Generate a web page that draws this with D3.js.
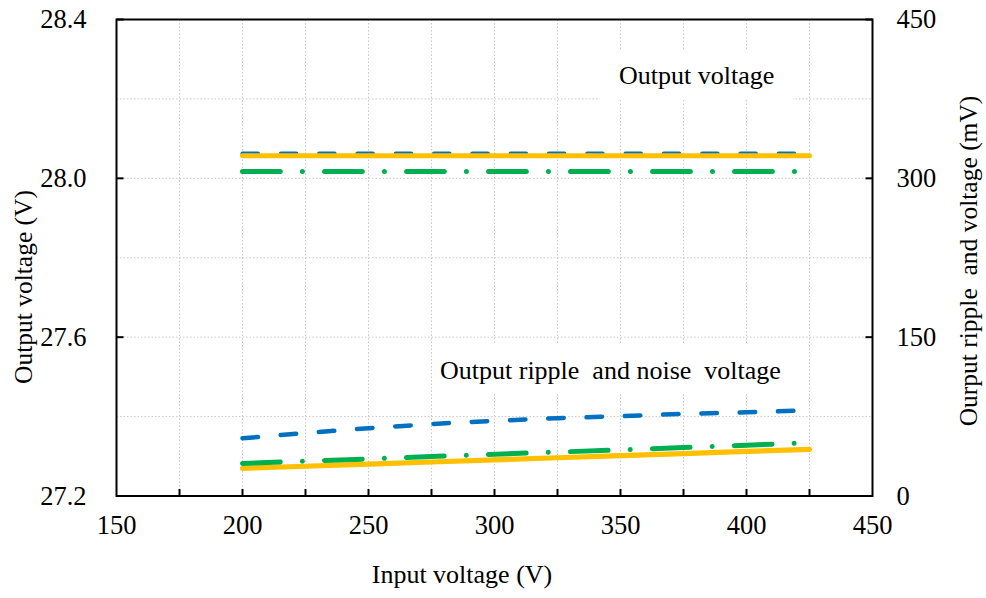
<!DOCTYPE html>
<html>
<head>
<meta charset="utf-8">
<script src="https://cdn.jsdelivr.net/npm/d3@7"></script>
<style>
  html, body { margin: 0; padding: 0; background: #fff; }
  svg { display: block; }
  text { font-family: "Liberation Serif", "Times New Roman", serif; fill: #000; }
</style>
</head>
<body>
<svg id="chart" width="986" height="598"></svg>
<script>
// Input voltage samples (V)
const vinFull = [200, 225, 250, 275, 300, 325, 350, 375, 400, 425];
const vinShort = [200, 225, 250, 275, 300, 325, 350, 375, 400, 420];

// Output voltage (V), left axis
const outVoltBlue   = [28.062, 28.062, 28.062, 28.062, 28.062, 28.062, 28.062, 28.062, 28.062, 28.062];
const outVoltYellow = [28.057, 28.057, 28.057, 28.057, 28.057, 28.057, 28.057, 28.057, 28.057, 28.057];
const outVoltGreen  = [28.017, 28.017, 28.017, 28.017, 28.017, 28.017, 28.017, 28.017, 28.017, 28.017];

// Output ripple and noise voltage (mV), right axis
const rippleBlue   = [54.5, 59.5, 64, 68, 71, 73.5, 75.5, 77.5, 79, 80.5];
const rippleYellow = [26.1, 28.1, 30.1, 32.1, 34.1, 36.1, 38.1, 40.1, 42.1, 44.1];
const rippleGreen  = [30.8, 33, 35, 37.2, 39.5, 41.5, 43.5, 45.7, 48, 49.8];

// Axis ticks
const xTicks = [150, 200, 250, 300, 350, 400, 450];
const xMinorTicks = [175, 200, 225, 250, 275, 300, 325, 350, 375, 400, 425];
const yLeftTicks = [27.2, 27.6, 28.0, 28.4];
const yGrid = [27.4, 27.6, 27.8, 28.0, 28.2];
const yRightTicks = [0, 150, 300, 450];

const svg = d3.select("#chart");
const m = { left: 116.5, top: 19.5, right: 113.5, bottom: 102 };
const W = 986 - m.left - m.right;
const H = 598 - m.top - m.bottom;

const x = d3.scaleLinear().domain([150, 450]).range([0, W]);
const yL = d3.scaleLinear().domain([27.2, 28.4]).range([H, 0]);
const yR = d3.scaleLinear().domain([0, 450]).range([H, 0]);

const g = svg.append("g").attr("transform", `translate(${m.left},${m.top})`);

// dotted grid
const grid = g.append("g").attr("stroke", "#c9c9c9").attr("stroke-width", 1).attr("stroke-dasharray", "1.5,2");
grid.selectAll("line.vx").data(xMinorTicks).join("line")
  .attr("x1", d => x(d)).attr("x2", d => x(d)).attr("y1", 0).attr("y2", H);
grid.selectAll("line.hy").data(yGrid).join("line")
  .attr("x1", 0).attr("x2", W).attr("y1", d => yL(d)).attr("y2", d => yL(d));

// annotation backgrounds cover the grid
const annotations = [
  { text: "Output voltage", x: 619 - m.left, y: 84 - m.top, box: [600 - m.left, 50 - m.top, 193, 50] },
  { text: "Output ripple\u00a0 and noise\u00a0 voltage", x: 440 - m.left, y: 379 - m.top, box: [432 - m.left, 345 - m.top, 358, 48] }
];
g.selectAll("rect.bg").data(annotations).join("rect")
  .attr("x", d => d.box[0]).attr("y", d => d.box[1])
  .attr("width", d => d.box[2]).attr("height", d => d.box[3])
  .attr("fill", "#fff");
g.selectAll("text.ann").data(annotations).join("text")
  .attr("x", d => d.x).attr("y", d => d.y)
  .attr("font-size", 26)
  .text(d => d.text);

// series
const lineL = (xs, ys) => d3.line().x((d, i) => x(xs[i])).y(d => yL(d))(ys);
const lineR = (xs, ys) => d3.line().x((d, i) => x(xs[i])).y(d => yR(d))(ys);

const blue = "#0070C0", yellow = "#FFC000", green = "#00B050";
const dashBlue = "15.5,22.8";
const dashGreen = "37.8,22.1,0.01,22.1";

const series = [
  { d: lineL(vinShort, outVoltBlue), c: blue, w: 4.2, dash: dashBlue },
  { d: lineR(vinShort, rippleBlue), c: blue, w: 4.5, dash: dashBlue },
  { d: lineL(vinFull, outVoltYellow), c: yellow, w: 5, dash: null },
  { d: lineR(vinFull, rippleYellow), c: yellow, w: 5.2, dash: null },
  { d: lineL(vinShort, outVoltGreen), c: green, w: 5, dash: dashGreen },
  { d: lineR(vinShort, rippleGreen), c: green, w: 5, dash: dashGreen }
];
g.selectAll("path.s").data(series).join("path")
  .attr("d", d => d.d)
  .attr("fill", "none")
  .attr("stroke", d => d.c)
  .attr("stroke-width", d => d.w)
  .attr("stroke-linecap", "round")
  .attr("stroke-linejoin", "round")
  .attr("stroke-dasharray", d => d.dash);

// frame
g.append("rect").attr("x", 0).attr("y", 0).attr("width", W).attr("height", H)
  .attr("fill", "none").attr("stroke", "#000").attr("stroke-width", 2);

// inward tick marks
const tk = g.append("g").attr("stroke", "#000").attr("stroke-width", 2);
tk.selectAll("line.bx").data(xMinorTicks).join("line")
  .attr("x1", d => x(d)).attr("x2", d => x(d)).attr("y1", H).attr("y2", H - 7);
tk.selectAll("line.ly").data(yLeftTicks).join("line")
  .attr("x1", 0).attr("x2", 7).attr("y1", d => yL(d)).attr("y2", d => yL(d));
tk.selectAll("line.ry").data(yRightTicks).join("line")
  .attr("x1", W).attr("x2", W - 7).attr("y1", d => yR(d)).attr("y2", d => yR(d));

// tick labels
g.selectAll("text.xl").data(xTicks).join("text")
  .attr("x", d => x(d)).attr("y", H + 38)
  .attr("text-anchor", "middle").attr("font-size", 26.5)
  .text(d => d);
g.selectAll("text.yl").data(yLeftTicks).join("text")
  .attr("x", -30).attr("y", d => yL(d) + 8.5)
  .attr("text-anchor", "end").attr("font-size", 26.5)
  .text(d => d3.format(".1f")(d));
g.selectAll("text.yr").data(yRightTicks).join("text")
  .attr("x", W + 24).attr("y", d => yR(d) + 8.5)
  .attr("text-anchor", "start").attr("font-size", 26.5)
  .text(d => d);

// axis titles
svg.append("text").attr("x", 462).attr("y", 583)
  .attr("text-anchor", "middle").attr("font-size", 26)
  .text("Input voltage (V)");
svg.append("text").attr("transform", "translate(32,287) rotate(-90)")
  .attr("text-anchor", "middle").attr("font-size", 25.5)
  .text("Output voltage (V)");
svg.append("text").attr("transform", "translate(977,261) rotate(-90)")
  .attr("text-anchor", "middle").attr("font-size", 25.5)
  .text("Ourput ripple\u00a0 and voltage (mV)");
</script>
</body>
</html>
